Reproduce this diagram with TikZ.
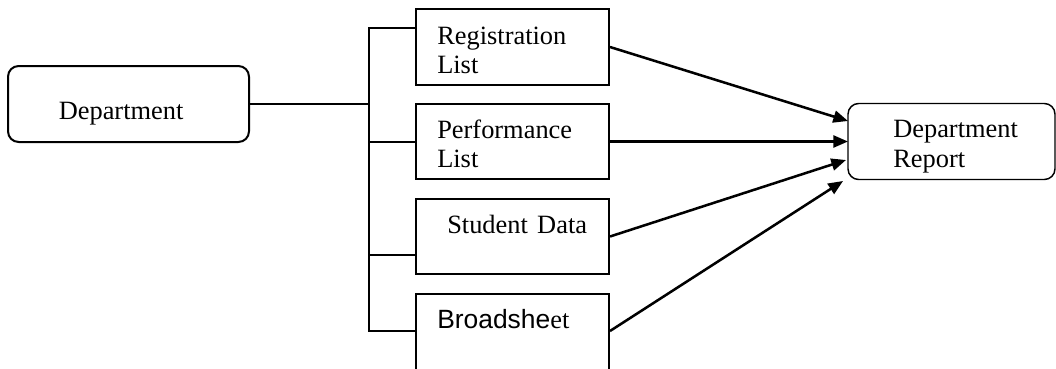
\documentclass[tikz,border=0pt]{standalone}
\usepackage{fontspec}
\setmainfont{Liberation Serif}
\newfontfamily\arialfont{Liberation Sans}
\usetikzlibrary{arrows.meta}

\tikzset{
  boxstyle/.style={draw, line width=1.5pt, rectangle, inner sep=0pt,
    minimum width=193*0.75pt, minimum height=76*0.75pt},
  roundbox/.style={draw, rectangle, rounded corners=8pt, inner sep=0pt},
  txt/.style={anchor=base west, inner sep=0pt, font=\fontsize{19.8}{22}\selectfont},
  link/.style={line width=1.5pt},
  flow/.style={line width=1.9pt, -{Triangle[length=11pt,width=9pt]}}
}

\begin{document}
\begin{tikzpicture}[x=0.75pt, y=-0.75pt]
  \useasboundingbox (0,0) rectangle (1056,368);
  \clip (0,0) rectangle (1056,368);

  % source unit
  \node[roundbox, line width=1.5pt, minimum width=241*0.75pt, minimum height=76*0.75pt]
    (dept) at (128.5,104) {};
  \node[txt] (deptt) at (58.5,119) {Department};

  % the four output documents
  \node[boxstyle] (reg)   at (512.5,47)    {};
  \node[boxstyle, minimum height=75*0.75pt] (perf)  at (512.5,141.5) {};
  \node[boxstyle, minimum height=75*0.75pt] (stud)  at (512.5,236.5) {};
  \node[boxstyle, minimum height=79*0.75pt] (broad) at (512.5,333.5) {};

  \node[txt] (reg1)  at (437,44)  {Registration};
  \node[txt] (reg2)  at (437,73)  {List};
  \node[txt] (perf1) at (437,138) {Performance};
  \node[txt] (perf2) at (437,167) {List};
  \node[txt] (stud1) at (447,233) {Student\hspace{2pt} Data};
  \node[txt] (brd1)  at (437,328) {{\arialfont Broadshe}et};

  % combined report
  \node[roundbox, line width=1.1pt, minimum width=207*0.75pt, minimum height=76*0.75pt]
    (report) at (951.5,141.5) {};
  \node[txt] (rep1) at (893,137) {Department};
  \node[txt] (rep2) at (893,167) {Report};

  % distribution trunk
  \coordinate (t1) at (369,28);
  \coordinate (t2) at (369,141.5);
  \coordinate (t3) at (369,255);
  \coordinate (t4) at (369,331);
  \draw[link] (dept.east) -- (dept.east -| t1);
  \draw[link] (t1 -| reg.west) -- (t1) -- (t4) -- (t4 -| broad.west);
  \draw[link] (t2) -- (t2 -| perf.west);
  \draw[link] (t3) -- (t3 -| stud.west);

  % flows into the report
  \coordinate (in1) at (848,121);
  \coordinate (in2) at (848,141.5);
  \coordinate (in3) at (846,160);
  \coordinate (in4) at (843,181);
  \draw[flow] (reg.east) -- (in1);
  \draw[flow] (perf.east) -- (in2);
  \draw[flow] (stud.east) -- (in3);
  \draw[flow] (broad.east |- t4) -- (in4);
\end{tikzpicture}
\end{document}
